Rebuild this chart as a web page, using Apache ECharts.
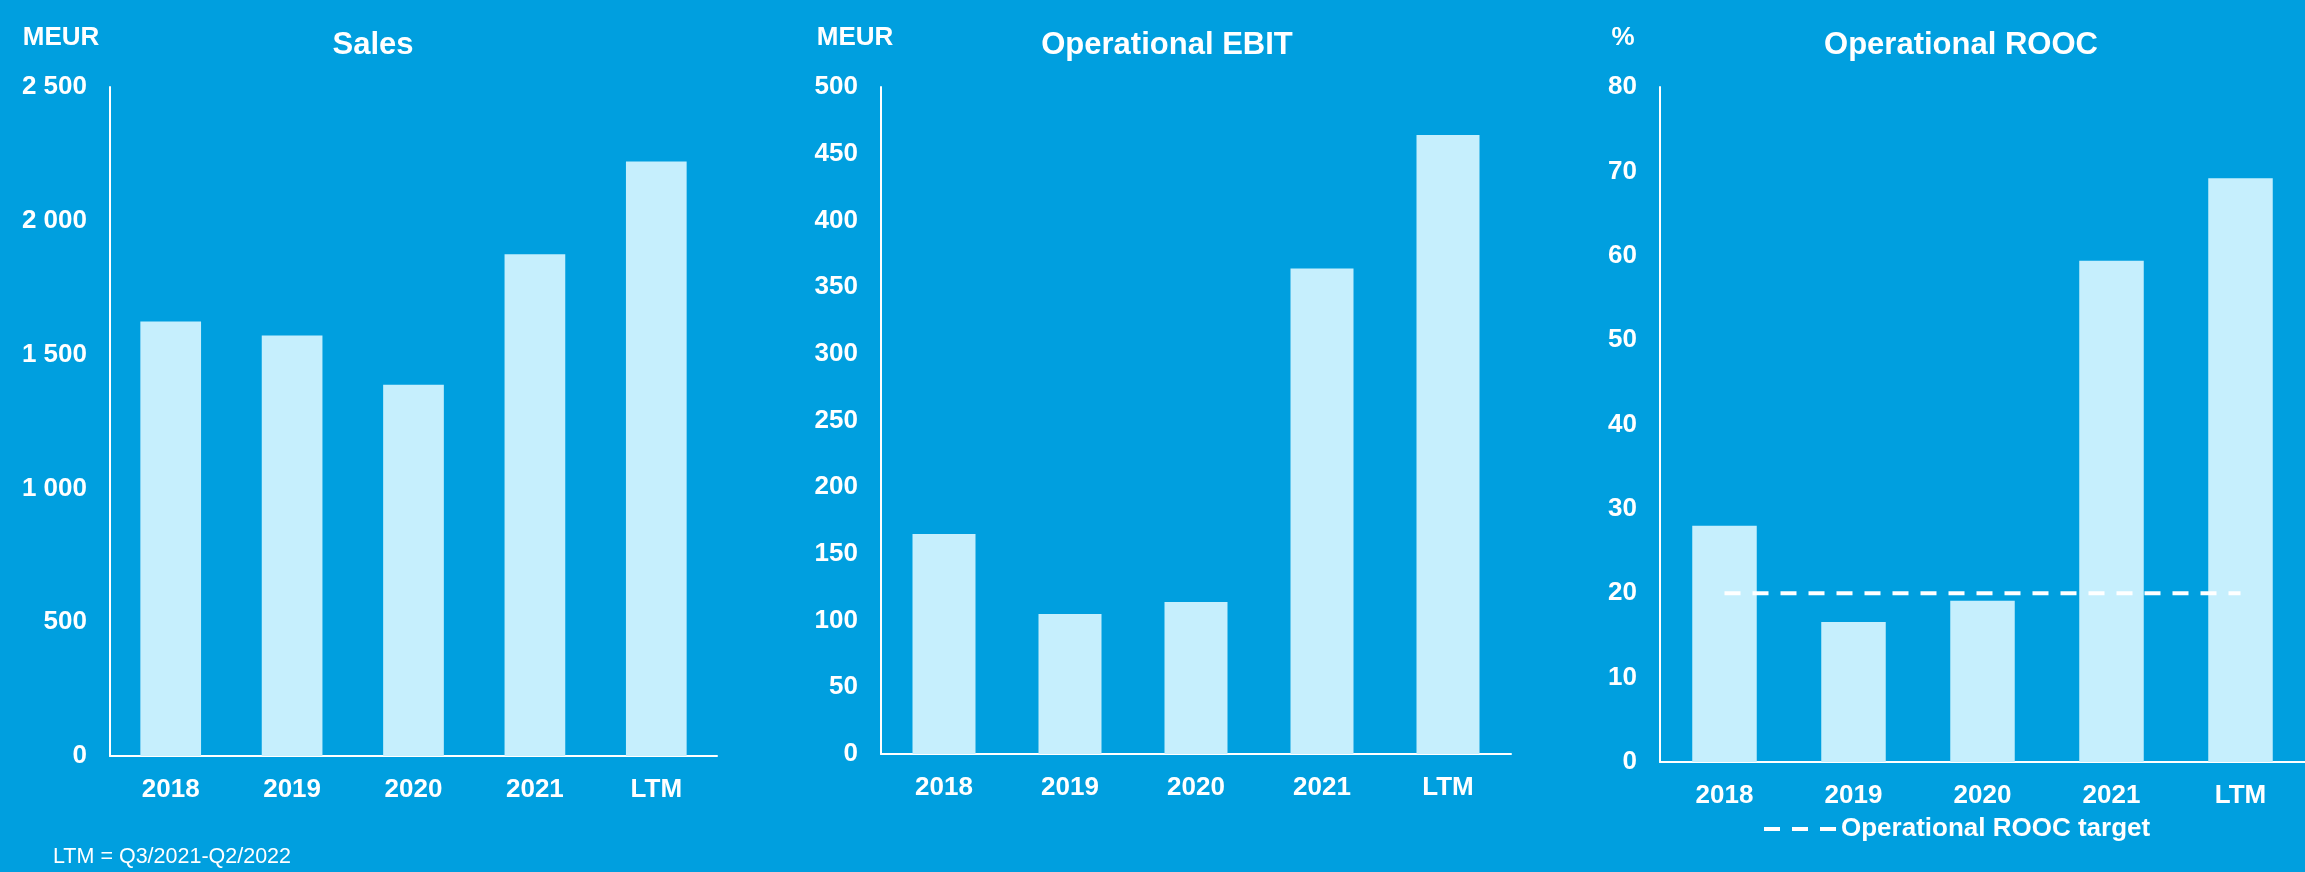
<!DOCTYPE html>
<html>
<head>
<meta charset="utf-8">
<script src="https://cdn.jsdelivr.net/npm/echarts@6/dist/echarts.min.js"></script>
<style>
html,body{margin:0;padding:0;background:#009fdf;}
#c{width:2305px;height:872px;}
</style>
</head>
<body>
<div id="c"></div>
<script>
// ---- data ----
const categories = ['2018', '2019', '2020', '2021', 'LTM'];
const salesValues = [1624, 1571, 1387, 1875, 2222];
const ebitValues = [165, 105, 114, 364, 464];
const roocValues = [28.0, 16.6, 19.1, 59.4, 69.2];
const roocTarget = [20, 20, 20, 20, 20];
const salesTicks = ['0', '500', '1 000', '1 500', '2 000', '2 500'];
const ebitTicks = ['0', '50', '100', '150', '200', '250', '300', '350', '400', '450', '500'];
const roocTicks = ['0', '10', '20', '30', '40', '50', '60', '70', '80'];
const titles = ['Sales', 'Operational EBIT', 'Operational ROOC'];
const units = ['MEUR', 'MEUR', '%'];
const targetName = 'Operational ROOC target';
const footnote = 'LTM = Q3/2021-Q2/2022';

// ---- styles ----
const FONT = '"Liberation Sans", Arial, sans-serif';
const WHITE = '#ffffff';
const BAR = '#c6effd';

const chart = echarts.init(document.getElementById('c'));

function xAxis(gi) {
  return {
    type: 'category', gridIndex: gi, data: categories,
    axisLine: { show: true, lineStyle: { color: WHITE, width: 2 } },
    axisTick: { show: false },
    axisLabel: { color: WHITE, fontFamily: FONT, fontWeight: 'bold', fontSize: 26, margin: 21 },
    splitLine: { show: false }
  };
}
function yAxis(gi, max, interval, ticks) {
  return {
    type: 'value', gridIndex: gi, min: 0, max: max, interval: interval,
    axisLine: { show: true, lineStyle: { color: WHITE, width: 2 } },
    axisTick: { show: false },
    splitLine: { show: false },
    axisLabel: {
      color: WHITE, fontFamily: FONT, fontWeight: 'bold', fontSize: 26, margin: 23,
      formatter: function (v) { return ticks[Math.round(v / interval)]; }
    }
  };
}
function barSeries(gi, data, name) {
  return {
    type: 'bar', name: name, xAxisIndex: gi, yAxisIndex: gi, data: data,
    barWidth: '50%', itemStyle: { color: BAR }, silent: true
  };
}

const textStyle = (txt, x, y, size, weight, align) => ({
  type: 'text', x: x, y: y,
  style: {
    text: txt, fill: WHITE, font: weight + ' ' + size + 'px ' + FONT,
    textAlign: align, textVerticalAlign: 'middle'
  }
});

const option = {
  backgroundColor: '#009fdf',
  animation: false,
  grid: [
    { left: 110, right: 1588, top: 87, bottom: 116 },
    { left: 881, right: 794, top: 87, bottom: 118 },
    { left: 1660, right: 0, top: 87, bottom: 110 }
  ],
  xAxis: [xAxis(0), xAxis(1), xAxis(2)],
  yAxis: [
    yAxis(0, 2500, 500, salesTicks),
    yAxis(1, 500, 50, ebitTicks),
    yAxis(2, 80, 10, roocTicks)
  ],
  legend: {
    data: [targetName],
    left: 1757, top: 811,
    itemWidth: 72, itemHeight: 5, itemGap: 10,
    lineStyle: { color: WHITE, width: 4, type: [16, 12] },
    textStyle: { color: WHITE, fontFamily: FONT, fontWeight: 'bold', fontSize: 26, padding: [0, 0, 0, 0] },
    selectedMode: false
  },
  series: [
    barSeries(0, salesValues, 'Sales'),
    barSeries(1, ebitValues, 'Operational EBIT'),
    barSeries(2, roocValues, 'Operational ROOC'),
    {
      type: 'line', name: targetName, xAxisIndex: 2, yAxisIndex: 2, data: roocTarget,
      symbol: 'none', showSymbol: false, silent: true, z: 5,
      lineStyle: { color: WHITE, width: 4, type: [16, 12] },
      itemStyle: { color: WHITE }
    }
  ],
  graphic: [
    textStyle(titles[0], 373, 45, 31, 'bold', 'center'),
    textStyle(titles[1], 1167, 45, 31, 'bold', 'center'),
    textStyle(titles[2], 1961, 45, 31, 'bold', 'center'),
    textStyle(units[0], 61, 38, 26, 'bold', 'center'),
    textStyle(units[1], 855, 38, 26, 'bold', 'center'),
    textStyle(units[2], 1623, 38, 26, 'bold', 'center'),
    textStyle(footnote, 53, 857, 21.5, 'normal', 'left')
  ]
};
chart.setOption(option);
</script>
</body>
</html>
